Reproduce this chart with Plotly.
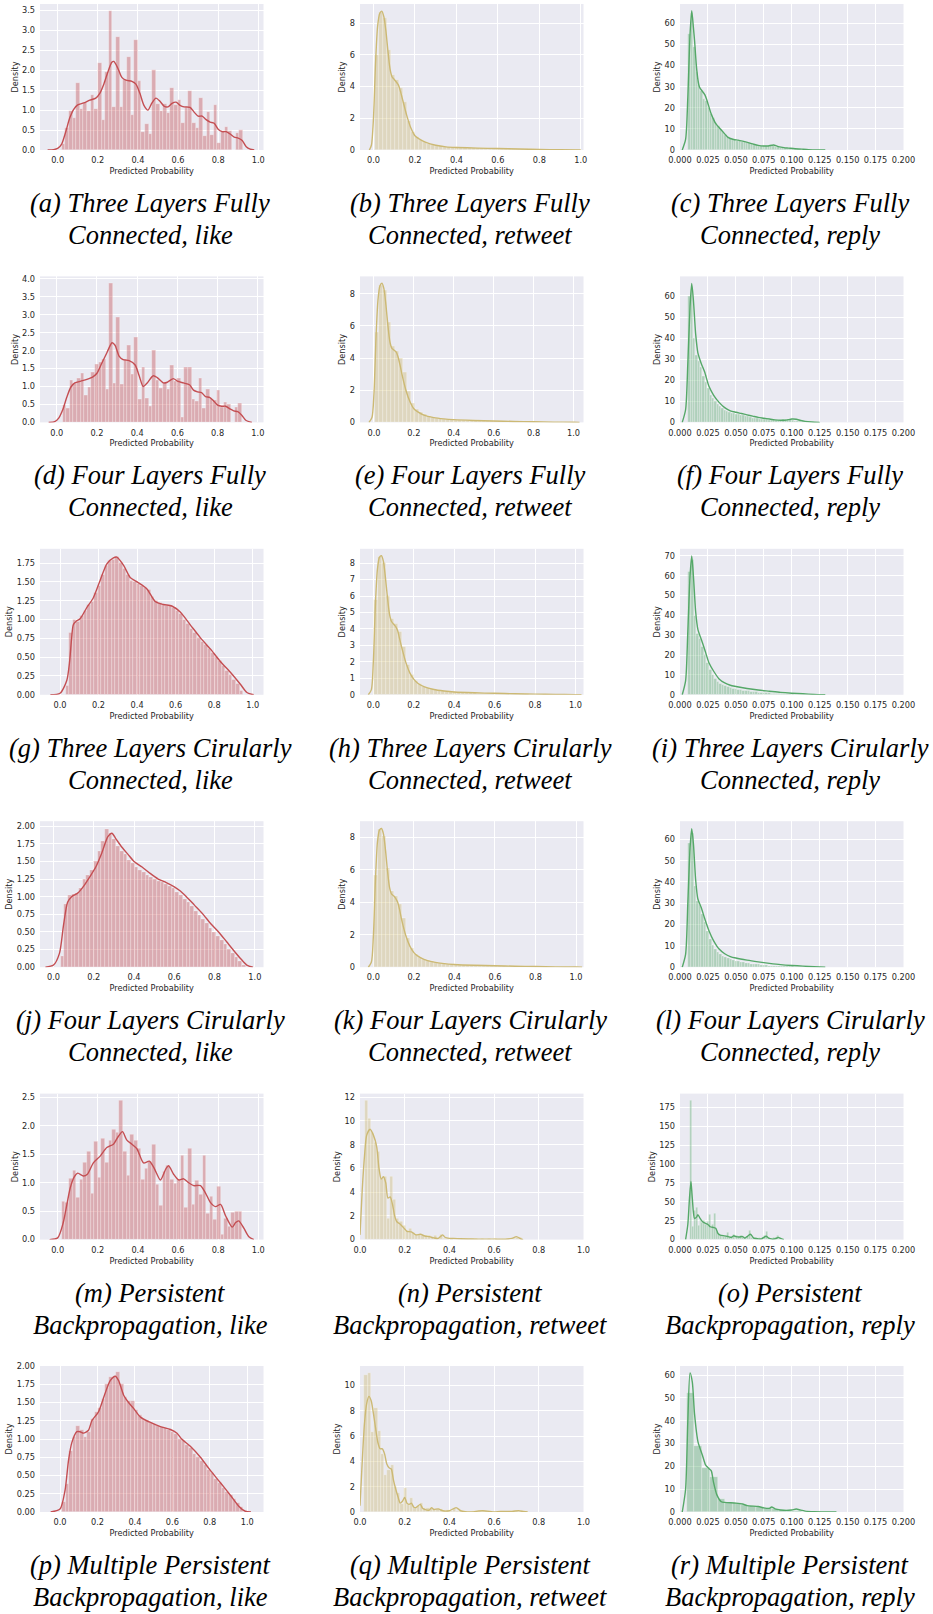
import plotly.graph_objects as go

# ---------------- data ----------------
# (a) Three Layers Fully Connected, like
a_bin_start = 0.02
a_bin_width = 0.01806
a_heights = [0.15, 0.55, 0.98, 0.80, 1.68, 1.03, 1.18, 0.98, 1.38, 1.02,
             2.18, 0.75, 1.95, 3.49, 1.08, 2.83, 1.08, 1.75, 2.34, 0.88,
             2.76, 1.73, 0.45, 0.65, 0.40, 2.00, 1.15, 0.98, 1.15, 0.93,
             1.55, 1.12, 1.25, 0.68, 1.05, 1.48, 0.68, 0.55, 1.30, 0.35,
             0.95, 0.38, 1.12, 0.18, 0.48, 0.57, 0.48, 0.00, 0.43, 0.51]
a_kde_x = [-0.05, -0.02, 0.0, 0.02, 0.04, 0.06, 0.08, 0.1, 0.13, 0.16, 0.19, 0.21, 0.23, 0.25, 0.27, 0.28,
           0.3, 0.32, 0.34, 0.37, 0.39, 0.41, 0.43, 0.45, 0.47, 0.49, 0.51, 0.53, 0.55, 0.57, 0.59, 0.61,
           0.63, 0.66, 0.68, 0.7, 0.72, 0.74, 0.76, 0.78, 0.8, 0.82, 0.84, 0.86, 0.88, 0.9, 0.92, 0.94, 0.96, 0.98]
a_kde_y = [0, 0.01, 0.04, 0.15, 0.45, 0.8, 1.02, 1.13, 1.18, 1.25, 1.3, 1.42, 1.65, 1.95, 2.2, 2.22,
           2.05, 1.82, 1.75, 1.72, 1.65, 1.42, 1.12, 1.0, 1.18, 1.3, 1.22, 1.1, 1.08, 1.17, 1.2, 1.12,
           1.08, 1.07, 0.95, 0.85, 0.85, 0.76, 0.7, 0.67, 0.52, 0.46, 0.46, 0.4, 0.32, 0.3, 0.24, 0.08, 0.02, 0]

# (b) Three Layers Fully Connected, retweet
b_bin_start = 0.005
b_bin_width = 0.0195
b_heights = [6.0, 8.7, 8.3, 6.3, 4.7, 4.4, 3.9, 3.0, 1.8, 1.15,
             0.8, 0.65, 0.5, 0.4, 0.33, 0.28, 0.25, 0.22, 0.2, 0.18,
             0.16, 0.15, 0.14, 0.13, 0.12, 0.11, 0.1, 0.1, 0.09, 0.09,
             0.08, 0.08, 0.07, 0.07, 0.06, 0.06, 0.05, 0.05, 0.04, 0.04,
             0.03, 0.03, 0.03, 0.02, 0.02, 0.02, 0.01, 0.01, 0.01, 0.01]
b_kde_x = [-0.02, -0.01, 0.0, 0.01, 0.02, 0.03, 0.04, 0.05, 0.06, 0.07, 0.08, 0.09, 0.1, 0.12, 0.13,
           0.14, 0.16, 0.18, 0.2, 0.22, 0.25, 0.3, 0.35, 0.4, 0.5, 0.6, 0.7, 0.8, 0.9, 1.0]
b_kde_y = [0, 0.3, 2.0, 5.5, 7.8, 8.6, 8.75, 8.4, 7.5, 6.2, 5.1, 4.6, 4.45, 4.1, 3.7,
           3.2, 2.2, 1.4, 0.9, 0.7, 0.5, 0.3, 0.2, 0.16, 0.12, 0.09, 0.06, 0.03, 0.015, 0.005]

# (c) Three Layers Fully Connected, reply
c_bin_start = 0.0075
c_bin_width = 0.00215
c_heights = [55, 65, 49, 37, 31, 28, 24, 23, 20, 17,
             15, 13, 11.5, 10, 8.5, 7.2, 6.2, 5.5, 5.0, 4.7,
             4.5, 4.3, 4.0, 3.8, 3.5, 3.2, 2.9, 2.6, 2.3, 2.1,
             2.0, 1.9, 1.8, 1.9, 2.2, 2.0, 1.6, 1.3, 1.0, 0.9,
             0.8, 0.7, 0.6, 0.5, 0.4, 0.3, 0.25, 0.2, 0.15, 0.1]
c_kde_x = [0.002, 0.005, 0.007, 0.009, 0.0105, 0.012, 0.013, 0.015, 0.0173, 0.0224, 0.028, 0.032, 0.037,
           0.043, 0.048, 0.052, 0.056, 0.061, 0.066, 0.07, 0.075, 0.079, 0.0836, 0.088, 0.093, 0.097,
           0.103, 0.109, 0.115, 0.122, 0.13]
c_kde_y = [0, 5, 25, 55, 66, 58, 52, 38, 30, 26, 17, 12.5, 9.5,
           6, 5, 4.7, 4.2, 3.5, 2.7, 2.2, 1.9, 1.9, 2.4, 1.6, 1.1, 0.9,
           0.6, 0.4, 0.2, 0.05, 0]

# (d) Four Layers Fully Connected, like
d_bin_start = 0.03
d_bin_width = 0.0178
d_heights = [0.48, 0.40, 1.17, 1.10, 1.22, 1.37, 0.75, 0.97, 1.40, 1.62,
             1.67, 1.76, 0.92, 3.87, 1.08, 2.92, 1.05, 1.75, 2.15, 1.35,
             2.38, 0.65, 1.53, 0.66, 0.45, 2.00, 1.18, 0.95, 1.08, 0.93,
             1.58, 1.13, 1.23, 0.15, 1.53, 1.53, 0.65, 0.58, 1.22, 0.40,
             0.92, 0.65, 0.60, 0.90, 0.42, 0.57, 0.50, 0.00, 0.42, 0.52]
d_kde_x = [-0.04, -0.01, 0.01, 0.03, 0.05, 0.07, 0.09, 0.12, 0.15, 0.18, 0.2, 0.22, 0.25, 0.275, 0.29,
           0.31, 0.33, 0.36, 0.39, 0.41, 0.43, 0.45, 0.48, 0.5, 0.53, 0.55, 0.58, 0.6, 0.63, 0.66, 0.68,
           0.7, 0.72, 0.74, 0.76, 0.78, 0.8, 0.82, 0.84, 0.86, 0.88, 0.9, 0.92, 0.94, 0.97]
d_kde_y = [0, 0.02, 0.12, 0.35, 0.7, 0.98, 1.1, 1.15, 1.2, 1.27, 1.37, 1.6, 1.95, 2.22, 2.15,
           1.85, 1.75, 1.72, 1.6, 1.3, 1.0, 1.1, 1.3, 1.25, 1.1, 1.12, 1.22, 1.15, 1.1, 1.05, 0.9,
           0.85, 0.83, 0.72, 0.7, 0.6, 0.48, 0.45, 0.45, 0.38, 0.32, 0.3, 0.2, 0.06, 0]

# (e) Four Layers Fully Connected, retweet
e_bin_start = 0.005
e_bin_width = 0.0199
e_heights = [5.6, 8.5, 8.2, 6.2, 4.7, 4.4, 4.0, 3.1, 1.9, 1.2,
             0.8, 0.6, 0.48, 0.4, 0.33, 0.28, 0.24, 0.21, 0.19, 0.17,
             0.15, 0.14, 0.13, 0.12, 0.11, 0.1, 0.09, 0.09, 0.08, 0.08,
             0.07, 0.07, 0.06, 0.06, 0.05, 0.05, 0.05, 0.04, 0.04, 0.03,
             0.03, 0.03, 0.02, 0.02, 0.02, 0.02, 0.01, 0.01, 0.01, 0.01]
e_kde_x = [-0.025, -0.01, 0.0, 0.01, 0.02, 0.03, 0.04, 0.05, 0.06, 0.07, 0.08, 0.09, 0.1, 0.11, 0.12, 0.13,
           0.14, 0.16, 0.18, 0.2, 0.22, 0.25, 0.3, 0.35, 0.4, 0.5, 0.6, 0.7, 0.8, 0.9, 1.0, 1.03]
e_kde_y = [0, 0.3, 1.8, 5.2, 7.6, 8.5, 8.65, 8.3, 7.3, 6.0, 5.0, 4.6, 4.5, 4.4, 4.1, 3.6,
           3.0, 2.0, 1.3, 0.85, 0.65, 0.45, 0.3, 0.22, 0.17, 0.12, 0.09, 0.06, 0.04, 0.02, 0.01, 0]

# (f) Four Layers Fully Connected, reply
f_bin_start = 0.0075
f_bin_width = 0.0021
f_heights = [60, 63, 40, 32, 29, 26, 22, 19, 16, 13,
             11.5, 10, 8.5, 7.5, 6.5, 5.8, 5.2, 4.8, 4.5, 4.2,
             4.0, 3.8, 3.5, 3.2, 3.0, 2.7, 2.4, 2.1, 1.9, 1.7,
             1.5, 1.4, 1.3, 1.2, 1.1, 1.0, 1.0, 0.9, 0.9, 1.0,
             1.2, 1.5, 1.6, 1.3, 0.9, 0.6, 0.4, 0.3, 0.2, 0.1]
f_kde_x = [0.002, 0.005, 0.007, 0.009, 0.0105, 0.012, 0.014, 0.016, 0.019, 0.022, 0.026, 0.03, 0.035,
           0.04, 0.045, 0.05, 0.055, 0.06, 0.065, 0.07, 0.075, 0.08, 0.085, 0.09, 0.095, 0.1, 0.104,
           0.108, 0.112, 0.118, 0.125]
f_kde_y = [0, 6, 28, 55, 66, 58, 42, 33, 28, 24, 17, 13, 9.5,
           7, 5.5, 4.8, 4.2, 3.6, 3.0, 2.4, 2.0, 1.6, 1.2, 1.0, 1.1, 1.6, 1.5,
           0.9, 0.5, 0.2, 0]

# (g) Three Layers Cirularly Connected, like
g_bin_start = 0.03
g_bin_width = 0.0184
g_heights = [0.12, 0.83, 0.99, 0.97, 1.05, 1.12, 1.2, 1.24, 1.35, 1.45,
             1.6, 1.72, 1.78, 1.8, 1.84, 1.75, 1.68, 1.6, 1.52, 1.5,
             1.47, 1.45, 1.42, 1.4, 1.3, 1.25, 1.22, 1.2, 1.18, 1.18,
             1.16, 1.12, 1.08, 1.0, 0.95, 0.88, 0.82, 0.76, 0.7, 0.66,
             0.61, 0.56, 0.5, 0.45, 0.38, 0.32, 0.27, 0.2, 0.15, 0.05]
g_kde_x = [-0.05, 0.0, 0.035, 0.05, 0.06, 0.069, 0.085, 0.104, 0.139, 0.173, 0.208, 0.243, 0.277, 0.295,
           0.33, 0.364, 0.4, 0.45, 0.494, 0.537, 0.58, 0.624, 0.676, 0.728, 0.78, 0.83, 0.884, 0.936,
           0.97, 1.005]
g_kde_y = [0, 0.02, 0.19, 0.45, 0.75, 0.93, 0.98, 1.01, 1.16, 1.29, 1.52, 1.74, 1.82, 1.83,
           1.72, 1.56, 1.5, 1.41, 1.24, 1.2, 1.18, 1.1, 0.93, 0.76, 0.61, 0.45, 0.3, 0.14,
           0.03, 0]

# (h) Three Layers Cirularly Connected, retweet
h_bin_start = 0.004
h_bin_width = 0.0196
h_heights = [5.8, 8.4, 8.0, 6.0, 4.6, 4.3, 3.8, 2.9, 1.8, 1.2,
             0.85, 0.65, 0.5, 0.42, 0.35, 0.3, 0.26, 0.23, 0.2, 0.18,
             0.16, 0.15, 0.13, 0.12, 0.11, 0.1, 0.09, 0.09, 0.08, 0.08,
             0.07, 0.06, 0.06, 0.05, 0.05, 0.05, 0.04, 0.04, 0.04, 0.03,
             0.03, 0.03, 0.02, 0.02, 0.02, 0.02, 0.01, 0.01, 0.01, 0.01]
h_kde_x = [-0.025, -0.01, 0.0, 0.01, 0.02, 0.03, 0.04, 0.05, 0.06, 0.07, 0.08, 0.09, 0.1, 0.11, 0.12, 0.13,
           0.14, 0.16, 0.18, 0.2, 0.22, 0.25, 0.3, 0.35, 0.4, 0.5, 0.6, 0.7, 0.8, 0.9, 1.0, 1.03]
h_kde_y = [0, 0.3, 2.0, 5.4, 7.6, 8.35, 8.45, 8.1, 7.1, 5.9, 4.9, 4.45, 4.3, 4.15, 3.9, 3.4,
           2.9, 2.0, 1.35, 0.95, 0.7, 0.5, 0.32, 0.23, 0.17, 0.12, 0.09, 0.06, 0.04, 0.02, 0.01, 0]

# (i) Three Layers Cirularly Connected, reply
i_bin_start = 0.0075
i_bin_width = 0.0023
i_heights = [62, 68, 40, 31, 28, 24, 20, 16, 12.5, 10,
             8, 6.5, 5.5, 4.8, 4.3, 3.9, 3.5, 3.2, 2.9, 2.6,
             2.4, 2.2, 2.0, 1.8, 1.6, 1.5, 1.3, 1.2, 1.1, 1.0,
             0.9, 0.8, 0.7, 0.6, 0.55, 0.5, 0.45, 0.4, 0.35, 0.3,
             0.3, 0.25, 0.2, 0.2, 0.15, 0.1, 0.1, 0.08, 0.05, 0.05]
i_kde_x = [0.002, 0.005, 0.007, 0.009, 0.0105, 0.012, 0.014, 0.016, 0.019, 0.022, 0.026, 0.03,
           0.035, 0.04, 0.045, 0.05, 0.06, 0.07, 0.08, 0.09, 0.1, 0.11, 0.12, 0.13]
i_kde_y = [0, 7, 32, 60, 70, 60, 42, 33, 28, 23, 16, 12,
           8, 6, 4.8, 4.2, 3.2, 2.4, 1.8, 1.2, 0.8, 0.5, 0.2, 0]

# (j) Four Layers Cirularly Connected, like
j_bin_start = 0.035
j_bin_width = 0.0184
j_heights = [0.15, 0.9, 1.02, 1.03, 1.05, 1.12, 1.25, 1.3, 1.38, 1.5,
             1.65, 1.78, 1.96, 1.9, 1.82, 1.72, 1.65, 1.6, 1.52, 1.47,
             1.42, 1.38, 1.35, 1.3, 1.28, 1.25, 1.22, 1.2, 1.17, 1.15,
             1.12, 1.07, 1.02, 0.97, 0.92, 0.86, 0.8, 0.74, 0.68, 0.62,
             0.56, 0.5, 0.44, 0.38, 0.32, 0.26, 0.2, 0.14, 0.08, 0.03]
j_kde_x = [-0.04, 0.0, 0.03, 0.05, 0.07, 0.09, 0.12, 0.15, 0.18, 0.21, 0.24, 0.27, 0.29, 0.31, 0.34, 0.37,
           0.4, 0.44, 0.48, 0.52, 0.56, 0.6, 0.63, 0.66, 0.7, 0.74, 0.78, 0.82, 0.86, 0.9, 0.93, 0.96, 0.99]
j_kde_y = [0, 0.03, 0.2, 0.6, 0.92, 1.0, 1.05, 1.15, 1.28, 1.42, 1.62, 1.85, 1.9, 1.82, 1.7, 1.6,
           1.5, 1.42, 1.33, 1.25, 1.2, 1.14, 1.08, 1.0, 0.88, 0.76, 0.62, 0.5, 0.36, 0.22, 0.12, 0.03, 0]

# (k) Four Layers Cirularly Connected, retweet
k_bin_start = 0.004
k_bin_width = 0.0197
k_heights = [5.7, 8.5, 8.1, 6.1, 4.7, 4.4, 3.9, 3.0, 1.8, 1.2,
             0.82, 0.62, 0.5, 0.41, 0.34, 0.29, 0.25, 0.22, 0.2, 0.18,
             0.16, 0.15, 0.13, 0.12, 0.11, 0.1, 0.09, 0.09, 0.08, 0.08,
             0.07, 0.07, 0.06, 0.06, 0.05, 0.05, 0.04, 0.04, 0.04, 0.03,
             0.03, 0.03, 0.02, 0.02, 0.02, 0.02, 0.01, 0.01, 0.01, 0.01]
k_kde_x = [-0.025, -0.01, 0.0, 0.01, 0.02, 0.03, 0.04, 0.05, 0.06, 0.07, 0.08, 0.09, 0.1, 0.11, 0.12, 0.13,
           0.14, 0.16, 0.18, 0.2, 0.22, 0.25, 0.3, 0.35, 0.4, 0.5, 0.6, 0.7, 0.8, 0.9, 1.0, 1.03]
k_kde_y = [0, 0.3, 1.9, 5.3, 7.7, 8.45, 8.55, 8.2, 7.2, 5.9, 4.9, 4.5, 4.4, 4.25, 4.0, 3.5,
           2.9, 1.95, 1.3, 0.9, 0.68, 0.48, 0.31, 0.22, 0.17, 0.12, 0.09, 0.06, 0.04, 0.02, 0.01, 0]

# (l) Four Layers Cirularly Connected, reply
l_bin_start = 0.0075
l_bin_width = 0.0023
l_heights = [58, 63, 38, 31, 29, 25, 21, 17, 13, 10.5,
             8.5, 7, 6, 5.2, 4.6, 4.1, 3.7, 3.3, 3.0, 2.7,
             2.4, 2.2, 2.0, 1.8, 1.6, 1.5, 1.3, 1.2, 1.0, 0.9,
             0.8, 0.7, 0.65, 0.6, 0.5, 0.45, 0.4, 0.35, 0.3, 0.3,
             0.25, 0.2, 0.2, 0.15, 0.1, 0.1, 0.08, 0.05, 0.05, 0.03]
l_kde_x = [0.002, 0.005, 0.007, 0.009, 0.0105, 0.012, 0.014, 0.016, 0.019, 0.022, 0.026, 0.03,
           0.035, 0.04, 0.045, 0.05, 0.06, 0.07, 0.08, 0.09, 0.1, 0.11, 0.12, 0.13]
l_kde_y = [0, 6, 30, 56, 65, 58, 41, 32, 28, 23, 17, 12.5,
           8.5, 6.3, 5, 4.3, 3.3, 2.5, 1.8, 1.2, 0.8, 0.5, 0.2, 0]

# (m) Persistent Backpropagation, like
m_bin_start = 0.02
m_bin_width = 0.018
m_heights = [0.67, 0.66, 1.07, 1.22, 0.74, 1.06, 1.35, 1.55, 0.81, 1.72,
             1.10, 1.77, 1.35, 1.75, 1.93, 1.88, 2.45, 1.55, 1.12, 1.85,
             1.75, 1.60, 1.06, 1.25, 1.37, 1.68, 0.97, 0.60, 1.20, 1.30,
             1.05, 0.98, 1.05, 1.47, 0.57, 1.60, 0.62, 1.03, 0.80, 1.47,
             0.45, 0.76, 0.36, 0.93, 0.09, 0.37, 0.23, 0.48, 0.49, 0.50]
m_kde_x = [-0.04, 0.0, 0.028, 0.062, 0.082, 0.1, 0.128, 0.148, 0.178, 0.212, 0.245, 0.278, 0.303, 0.323,
           0.345, 0.37, 0.395, 0.428, 0.457, 0.482, 0.512, 0.54, 0.553, 0.578, 0.603, 0.628, 0.653,
           0.678, 0.712, 0.737, 0.762, 0.787, 0.812, 0.837, 0.87, 0.887, 0.903, 0.928, 0.953, 0.978]
m_kde_y = [0, 0.03, 0.3, 0.9, 1.1, 1.17, 1.12, 1.15, 1.35, 1.47, 1.62, 1.68, 1.82, 1.9,
           1.75, 1.68, 1.6, 1.35, 1.38, 1.25, 1.05, 1.25, 1.3, 1.15, 1.05, 1.07, 1.0,
           0.95, 0.95, 0.82, 0.65, 0.58, 0.62, 0.42, 0.22, 0.3, 0.33, 0.2, 0.05, 0]

# (n) Persistent Backpropagation, retweet
n_bin_start = 0.021
n_bin_width = 0.0141
n_heights = [11.7, 10.2, 9.0, 8.2, 7.4, 5.1, 5.3, 1.8, 5.3, 3.4,
             1.8, 1.5, 1.2, 0.8, 0.9, 0.6, 0.45, 0.4, 0.35, 0.3,
             0.35, 0.15, 0.3, 0.1, 0.4, 0.1, 0.1, 0.05, 0.1, 0.05,
             0.05, 0.05, 0.05, 0.1, 0.05, 0.05, 0.0, 0.05, 0.0, 0.05,
             0.0, 0.05, 0.0, 0.0, 0.0, 0.05, 0.0, 0.05, 0.2, 0.15]
n_kde_x = [0.0, 0.01, 0.02, 0.03, 0.045, 0.06, 0.075, 0.085, 0.095, 0.105, 0.115, 0.125, 0.135, 0.145,
           0.155, 0.165, 0.18, 0.2, 0.21, 0.23, 0.25, 0.27, 0.29, 0.31, 0.33, 0.35, 0.37, 0.38, 0.4,
           0.42, 0.45, 0.5, 0.55, 0.6, 0.65, 0.68, 0.7, 0.72, 0.73]
n_kde_y = [0.4, 4.2, 7.0, 8.8, 9.3, 8.8, 7.8, 6.0, 5.1, 5.3, 4.8, 3.5, 3.6, 3.0,
           2.0, 1.5, 1.3, 0.9, 0.7, 0.65, 0.4, 0.45, 0.3, 0.25, 0.15, 0.1, 0.4, 0.2, 0.1,
           0.1, 0.07, 0.05, 0.04, 0.04, 0.03, 0.1, 0.25, 0.05, 0]

# (o) Persistent Backpropagation, reply
o_bin_start = 0.0092
o_bin_width = 0.00165
o_heights = [184, 17, 38, 42, 18, 26, 22, 25, 20, 24,
             33, 18, 20, 35, 10, 6, 5, 5, 4, 4,
             9, 3, 4, 6, 3, 5, 4, 5, 2, 3,
             2, 4, 12, 3, 2, 2, 1, 2, 1, 3,
             5, 11, 3, 1, 1, 2, 3, 5, 2, 1]
o_kde_x = [0.005, 0.007, 0.0085, 0.0098, 0.011, 0.013, 0.015, 0.016, 0.018, 0.02, 0.022, 0.025, 0.027,
           0.03, 0.032, 0.034, 0.036, 0.04, 0.043, 0.046, 0.048, 0.05, 0.053, 0.056, 0.058, 0.06,
           0.063, 0.066, 0.07, 0.073, 0.075, 0.077, 0.08, 0.083, 0.086, 0.088, 0.09, 0.093]
o_kde_y = [0, 20, 55, 77, 55, 28, 30, 33, 28, 24, 22, 20, 17,
           16, 15, 8, 6, 5, 4, 3, 5, 4, 3.5, 4, 2, 4,
           7, 2, 1, 1, 3, 4.5, 1.5, 0.5, 1.5, 3, 1.5, 0]

# (p) Multiple Persistent Backpropagation, like
p_bin_start = 0.01
p_bin_width = 0.0194
p_heights = [0.14, 0.38, 0.83, 1.03, 1.18, 1.12, 1.03, 1.1, 1.27, 1.37,
             1.42, 1.55, 1.75, 1.85, 1.85, 1.92, 1.75, 1.58, 1.52, 1.52,
             1.4, 1.33, 1.27, 1.25, 1.22, 1.2, 1.18, 1.17, 1.15, 1.13,
             1.1, 1.07, 1.0, 0.97, 0.92, 0.87, 0.8, 0.75, 0.7, 0.65,
             0.58, 0.53, 0.45, 0.4, 0.33, 0.27, 0.23, 0.18, 0.12, 0.07]
p_kde_x = [-0.05, 0.0, 0.027, 0.045, 0.063, 0.09, 0.107, 0.125, 0.152, 0.17, 0.205, 0.24, 0.268, 0.295,
           0.313, 0.34, 0.366, 0.393, 0.43, 0.48, 0.536, 0.59, 0.625, 0.65, 0.696, 0.75, 0.8, 0.857,
           0.91, 0.955, 0.99, 1.02]
p_kde_y = [0, 0.04, 0.3, 0.7, 0.95, 1.1, 1.1, 1.08, 1.12, 1.25, 1.37, 1.62, 1.8, 1.86,
           1.8, 1.6, 1.5, 1.42, 1.3, 1.23, 1.17, 1.13, 1.08, 1.0, 0.9, 0.75, 0.58, 0.4,
           0.23, 0.08, 0.01, 0]

# (q) Multiple Persistent Backpropagation, retweet
q_bin_start = 0.02
q_bin_width = 0.0146
q_heights = [10.8, 11.0, 6.3, 8.2, 6.4, 4.6, 2.9, 3.3, 3.75, 2.0,
             1.5, 0.6, 1.9, 0.55, 1.1, 0.4, 0.45, 0.7, 0.3, 0.35,
             0.3, 0.15, 0.25, 0.2, 0.1, 0.15, 0.1, 0.3, 0.1, 0.05,
             0.05, 0.0, 0.0, 0.05, 0.05, 0.1, 0.1, 0.05, 0.05, 0.0,
             0.0, 0.05, 0.05, 0.0, 0.05, 0.05, 0.05, 0.0, 0.05, 0.1]
q_kde_x = [0.0, 0.01, 0.02, 0.03, 0.04, 0.05, 0.06, 0.07, 0.08, 0.09, 0.1, 0.11, 0.12, 0.13, 0.14, 0.15,
           0.16, 0.17, 0.18, 0.19, 0.2, 0.21, 0.22, 0.23, 0.24, 0.25, 0.27, 0.28, 0.3, 0.31, 0.32, 0.33,
           0.35, 0.37, 0.4, 0.43, 0.45, 0.47, 0.5, 0.53, 0.55, 0.58, 0.6, 0.63, 0.68, 0.71, 0.73, 0.75]
q_kde_y = [0.5, 4.0, 7.0, 8.6, 9.15, 8.8, 7.8, 6.6, 5.5, 5.0, 5.0, 4.6, 3.8, 3.5, 3.4, 2.5,
           1.8, 1.2, 0.7, 0.85, 1.15, 0.7, 0.6, 0.7, 0.4, 0.35, 0.6, 0.3, 0.15, 0.15, 0.35, 0.2,
           0.25, 0.1, 0.1, 0.35, 0.1, 0.02, 0.0, 0.08, 0.1, 0.05, 0.0, 0.05, 0.05, 0.1, 0.05, 0.0]

# (r) Multiple Persistent Backpropagation, reply
r_bin_start = 0.006
r_bin_width = 0.0069
r_heights = [52, 29, 19.5, 15.5, 5.5, 4.0, 3.8, 3.2, 2.6, 2.3, 1.7, 1.2, 1.0, 0.6, 0.3, 0.15]
r_kde_x = [0.002, 0.005, 0.007, 0.009, 0.011, 0.013, 0.016, 0.02, 0.023, 0.026, 0.028, 0.03, 0.033,
           0.037, 0.04, 0.05, 0.056, 0.06, 0.07, 0.075, 0.08, 0.082, 0.085, 0.09, 0.095, 0.1, 0.104,
           0.108, 0.112, 0.12, 0.13, 0.14]
r_kde_y = [0, 10, 40, 61, 57, 43, 31, 25, 20.5, 19, 18, 13, 7.5,
           4.5, 4.2, 3.9, 3.5, 2.8, 2.4, 1.8, 1.6, 2.2, 1.4, 0.9, 0.7, 0.9, 1.3,
           0.8, 0.4, 0.15, 0.05, 0]

captions = {
    "a": ("(a) Three Layers Fully", "Connected, like"),
    "b": ("(b) Three Layers Fully", "Connected, retweet"),
    "c": ("(c) Three Layers Fully", "Connected, reply"),
    "d": ("(d) Four Layers Fully", "Connected, like"),
    "e": ("(e) Four Layers Fully", "Connected, retweet"),
    "f": ("(f) Four Layers Fully", "Connected, reply"),
    "g": ("(g) Three Layers Cirularly", "Connected, like"),
    "h": ("(h) Three Layers Cirularly", "Connected, retweet"),
    "i": ("(i) Three Layers Cirularly", "Connected, reply"),
    "j": ("(j) Four Layers Cirularly", "Connected, like"),
    "k": ("(k) Four Layers Cirularly", "Connected, retweet"),
    "l": ("(l) Four Layers Cirularly", "Connected, reply"),
    "m": ("(m) Persistent", "Backpropagation, like"),
    "n": ("(n) Persistent", "Backpropagation, retweet"),
    "o": ("(o) Persistent", "Backpropagation, reply"),
    "p": ("(p) Multiple Persistent", "Backpropagation, like"),
    "q": ("(q) Multiple Persistent", "Backpropagation, retweet"),
    "r": ("(r) Multiple Persistent", "Backpropagation, reply"),
}

D = globals()

# ---------------- styling / layout ----------------
W, H = 933, 1614
COLORS = [(196, 78, 82), (204, 185, 116), (85, 168, 104)]  # like, retweet, reply
COL_LEFT = [40, 360, 680]
PLOT_W = 223.5
ROW_TOP0, ROW_STEP, PLOT_H = 4, 272.4, 146
CAP_X = [150, 470, 790]

# per panel: x range, y range, y dtick, y tick format
axis_cfg = {
    "a": ([-0.088, 1.026], [0, 3.66], 0.5, ".1f"),
    "b": ([-0.065, 1.013], [0, 9.2], 2, "d"),
    "c": ([0, 0.2], [0, 69.2], 10, "d"),
    "d": ([-0.083, 1.028], [0, 4.07], 0.5, ".1f"),
    "e": ([-0.07, 1.05], [0, 9.08], 2, "d"),
    "f": ([0, 0.2], [0, 69.3], 10, "d"),
    "g": ([-0.104, 1.056], [0, 1.94], 0.25, ".2f"),
    "h": ([-0.066, 1.04], [0, 8.87], 1, "d"),
    "i": ([0, 0.2], [0, 73.6], 10, "d"),
    "j": ([-0.067, 1.043], [0, 2.07], 0.25, ".2f"),
    "k": ([-0.066, 1.037], [0, 9.0], 2, "d"),
    "l": ([0, 0.2], [0, 68.5], 10, "d"),
    "m": ([-0.088, 1.026], [0, 2.57], 0.5, ".1f"),
    "n": ([0, 1.0], [0, 12.3], 2, "d"),
    "o": ([0, 0.2], [0, 193], 25, "d"),
    "p": ([-0.107, 1.087], [0, 2.0], 0.25, ".2f"),
    "q": ([0, 1.0], [0, 11.55], 2, "d"),
    "r": ([0, 0.2], [0, 64], 10, "d"),
}

TICK_FONT = dict(family="DejaVu Sans", size=8.2, color="#262626")
CAP_FONT = dict(family="Liberation Serif", size=26.5, color="#000000")

fig = go.Figure()
layout = {}
annotations = []

for idx, key in enumerate("abcdefghijklmnopqr"):
    row, col = divmod(idx, 3)
    n = idx + 1
    xr = "x" if n == 1 else f"x{n}"
    yr = "y" if n == 1 else f"y{n}"
    cr, cg, cb = COLORS[col]

    start = D[f"{key}_bin_start"]
    width = D[f"{key}_bin_width"]
    heights = D[f"{key}_heights"]
    centers = [start + width * (i + 0.5) for i in range(len(heights))]

    fig.add_trace(go.Bar(
        x=centers, y=heights, width=width, xaxis=xr, yaxis=yr,
        marker=dict(color=f"rgba({cr},{cg},{cb},0.4)",
                    line=dict(color="rgba(255,255,255,0.45)", width=0.6)),
        showlegend=False, hoverinfo="skip"))
    fig.add_trace(go.Scatter(
        x=D[f"{key}_kde_x"], y=D[f"{key}_kde_y"], mode="lines", xaxis=xr, yaxis=yr,
        line=dict(color=f"rgb({cr},{cg},{cb})", width=1.4, shape="spline", smoothing=0.7),
        showlegend=False, hoverinfo="skip"))

    top = ROW_TOP0 + ROW_STEP * row
    left = COL_LEFT[col]
    xrange_, yrange_, ydt, yfmt = axis_cfg[key]
    if col == 2:
        xdt, xfmt = 0.025, ".3f"
    else:
        xdt, xfmt = 0.2, ".1f"

    common = dict(showgrid=True, gridcolor="white", gridwidth=1, zeroline=False,
                  showline=False, ticks="", tickfont=TICK_FONT, tickmode="linear",
                  tick0=0, fixedrange=True, automargin=False)
    layout["xaxis" if n == 1 else f"xaxis{n}"] = dict(
        common, domain=[left / W, (left + PLOT_W) / W], range=xrange_, anchor=yr,
        dtick=xdt, tickformat=xfmt, ticklabelstandoff=4,
        title=dict(text="Predicted Probability", font=TICK_FONT, standoff=3.5))
    layout["yaxis" if n == 1 else f"yaxis{n}"] = dict(
        common, domain=[1 - (top + PLOT_H) / H, 1 - top / H], range=yrange_, anchor=xr,
        dtick=ydt, tickformat=yfmt, ticklabelstandoff=4,
        title=dict(text="Density", font=TICK_FONT, standoff=2))

    line1, line2 = captions[key]
    for txt, dy in ((line1, 199), (line2, 231)):
        annotations.append(dict(
            text=f"<i>{txt}</i>", x=CAP_X[col] / W, y=1 - (top + dy) / H,
            xref="paper", yref="paper", xanchor="center", yanchor="middle",
            showarrow=False, font=CAP_FONT))

fig.update_layout(
    width=W, height=H, margin=dict(l=0, r=0, t=0, b=0, autoexpand=False),
    paper_bgcolor="white", plot_bgcolor="#EAEAF2",
    barmode="overlay", bargap=0, showlegend=False,
    annotations=annotations, **layout)

fig.write_html("out.html")
